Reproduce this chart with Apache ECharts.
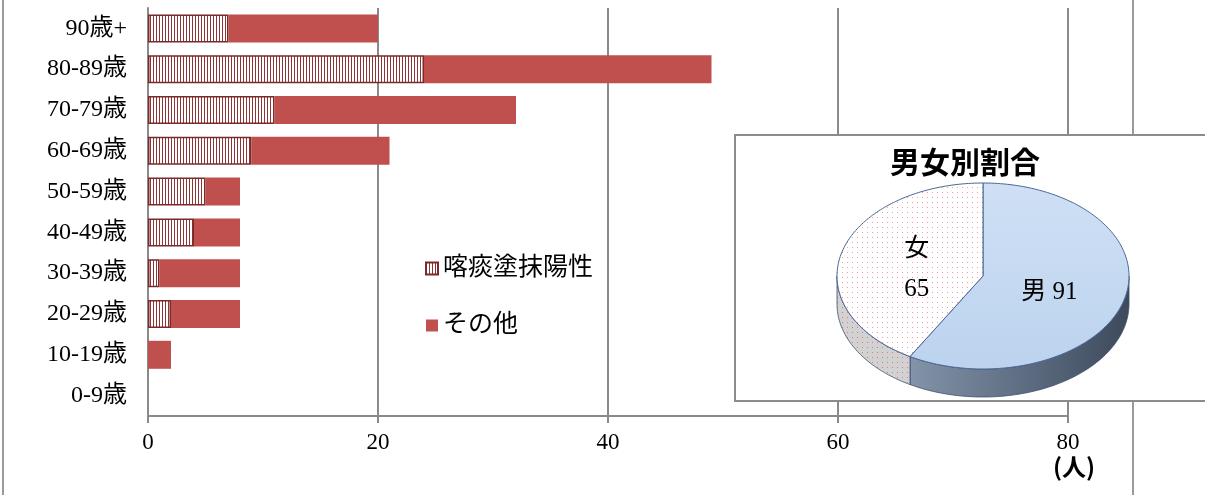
<!DOCTYPE html>
<html>
<head>
<meta charset="utf-8">
<script src="https://cdn.jsdelivr.net/npm/echarts@6/dist/echarts.min.js"></script>
<style>
  html, body { margin: 0; padding: 0; background: #fff; }
  #chart { width: 1205px; height: 495px; }
</style>
</head>
<body>
<div id="chart"></div>
<script>
    // 年齢階級（下から上へ）
    var ageGroups = ['0-9歳', '10-19歳', '20-29歳', '30-39歳', '40-49歳', '50-59歳', '60-69歳', '70-79歳', '80-89歳', '90歳+'];
    var positiveCounts = [0, 0, 2, 1, 4, 5, 9, 11, 24, 7];
    var otherCounts = [0, 2, 6, 7, 4, 3, 12, 21, 25, 13];
    var seriesNames = ['喀痰塗抹陽性', 'その他'];
    var xTicks = [0, 20, 40, 60, 80];

    // 男女別割合
    var pieNames = ['男', '女'];
    var pieValues = [91, 65];

    var serif = '"Liberation Serif", "DejaVu Serif", "Noto Sans CJK JP"';
    var gridCol = '#8a8a8a';

    // 縦縞パターン
    function stripes() {
        var c = document.createElement('canvas');
        c.width = 3; c.height = 6;
        var g = c.getContext('2d');
        g.fillStyle = '#ffffff'; g.fillRect(0, 0, 3, 6);
        g.fillStyle = '#8e3434'; g.fillRect(0, 0, 1, 6);
        return c;
    }
    // ドットパターン
    function dots(bg, dot) {
        var c = document.createElement('canvas');
        c.width = 5; c.height = 5;
        var g = c.getContext('2d');
        g.fillStyle = bg; g.fillRect(0, 0, 5, 5);
        g.fillStyle = dot; g.fillRect(2, 2, 1, 1);
        return c;
    }

    var pie = { cx: 983, cy: 276, rx: 146, ry: 93, depth: 28 };
    var pieTops = [
        new echarts.graphic.LinearGradient(0, 0, 0, 1, [{offset: 0, color: '#cfe0f5'}, {offset: 1, color: '#bcd3ee'}]),
        { image: dots('#ffffff', '#f29aa6'), repeat: 'repeat' }
    ];
    var pieSides = [
        new echarts.graphic.LinearGradient(0, 0, 1, 0, [{offset: 0, color: '#8393a8'}, {offset: 0.5, color: '#5f6e83'}, {offset: 1, color: '#3d4a5c'}]),
        { image: dots('#d2d2d2', '#e07884'), repeat: 'repeat' }
    ];

    function pt(a, dy) {
        return [pie.cx + pie.rx * Math.sin(a), pie.cy - pie.ry * Math.cos(a) + (dy || 0)];
    }
    function arc(a0, a1, dy) {
        var pts = [], n = Math.max(2, Math.ceil((a1 - a0) / 0.02));
        for (var k = 0; k <= n; k++) pts.push(pt(a0 + (a1 - a0) * k / n, dy));
        return pts;
    }

    function renderPie(params, api) {
        var total = pieValues.reduce(function (s, v) { return s + v; }, 0);
        var start = 0;
        for (var i = 0; i < params.dataIndex; i++) start += pieValues[i];
        var a0 = start / total * Math.PI * 2;
        var a1 = (start + api.value(0)) / total * Math.PI * 2;
        var kids = [];
        var s0 = Math.max(a0, Math.PI / 2), s1 = Math.min(a1, Math.PI * 1.5);
        if (s1 > s0) {
            var side = arc(s0, s1, 0).concat(arc(s0, s1, pie.depth).reverse());
            kids.push({ type: 'polygon', shape: { points: side },
                style: { fill: pieSides[params.dataIndex], stroke: '#3b4f70', lineWidth: 0.8 } });
        }
        kids.push({ type: 'polygon', shape: { points: [[pie.cx, pie.cy]].concat(arc(a0, a1, 0)) },
            style: { fill: pieTops[params.dataIndex], stroke: '#4a6696', lineWidth: 1 } });
        var mid = (a0 + a1) / 2;
        var lp = [pie.cx + pie.rx * 0.47 * Math.sin(mid), pie.cy - pie.ry * 0.47 * Math.cos(mid) + 5];
        var frac = api.value(0) / total;
        kids.push({ type: 'text', x: lp[0], y: lp[1],
            style: { text: pieNames[params.dataIndex] + (frac < 0.5 ? '\n' : ' ') + api.value(0),
                fill: '#000', font: '25px ' + serif, align: 'center', verticalAlign: 'middle', lineHeight: 40 } });
        return { type: 'group', children: kids };
    }

    var chart = echarts.init(document.getElementById('chart'));

    var option = {
        animation: false,
        grid: { left: 148, right: 137, top: 8, bottom: 79 },
        legend: {
            data: seriesNames,
            orient: 'vertical',
            left: 420,
            top: 251,
            itemWidth: 12,
            itemHeight: 12,
            itemGap: 32,
            icon: 'rect',
            textStyle: { fontSize: 25, color: '#000', fontFamily: serif }
        },
        xAxis: {
            type: 'value',
            min: xTicks[0],
            max: xTicks[xTicks.length - 1],
            interval: xTicks[1] - xTicks[0],
            axisLine: { show: true, lineStyle: { color: gridCol, width: 2 } },
            axisTick: { show: true, length: 7, lineStyle: { color: gridCol, width: 2 } },
            axisLabel: { fontSize: 23, color: '#000', margin: 15, fontFamily: serif },
            splitLine: { show: true, lineStyle: { color: gridCol, width: 2 } }
        },
        yAxis: {
            type: 'category',
            data: ageGroups,
            axisLine: { lineStyle: { color: gridCol, width: 2 } },
            axisTick: { length: 5, lineStyle: { color: gridCol, width: 2 } },
            axisLabel: { fontSize: 24, color: '#000', margin: 21, fontFamily: serif }
        },
        series: [
            {
                name: seriesNames[0],
                type: 'bar',
                stack: 'total',
                barWidth: 28,
                // 0件は枠線を描かないよう空値にする
                data: positiveCounts.map(function (v) { return v === 0 ? '-' : v; }),
                itemStyle: { color: { image: stripes(), repeat: 'repeat' }, borderColor: '#7a2a2a', borderWidth: 1.5 }
            },
            {
                name: seriesNames[1],
                type: 'bar',
                stack: 'total',
                barWidth: 28,
                data: otherCounts,
                itemStyle: { color: '#c0504d' }
            },
            {
                type: 'custom',
                coordinateSystem: 'none',
                silent: true,
                z: 10,
                renderItem: renderPie,
                data: pieValues.map(function (v, i) { return { name: pieNames[i], value: v }; })
            }
        ],
        graphic: [
            // セル罫線
            { type: 'line', z: 1, shape: { x1: 3, y1: 0, x2: 3, y2: 495 }, style: { stroke: '#9a9a9a', lineWidth: 2 } },
            { type: 'line', z: 1, shape: { x1: 1133, y1: 0, x2: 1133, y2: 495 }, style: { stroke: '#9a9a9a', lineWidth: 2 } },
            // 円グラフ枠
            { type: 'rect', z: 5, shape: { x: 735, y: 135, width: 480, height: 266 },
              style: { fill: '#fff', stroke: '#8c8c8c', lineWidth: 2 } },
            { type: 'text', z: 20, x: 965, y: 162,
              style: { text: '男女別割合', font: 'bold 30px "Noto Sans CJK JP"', fill: '#000', align: 'center', verticalAlign: 'middle' } },
            { type: 'text', z: 20, x: 1074, y: 467,
              style: { text: '(人)', font: 'bold 24px "Noto Sans CJK JP"', fill: '#000', align: 'center', verticalAlign: 'middle' } }
        ]
    };

    chart.setOption(option);
</script>
</body>
</html>
